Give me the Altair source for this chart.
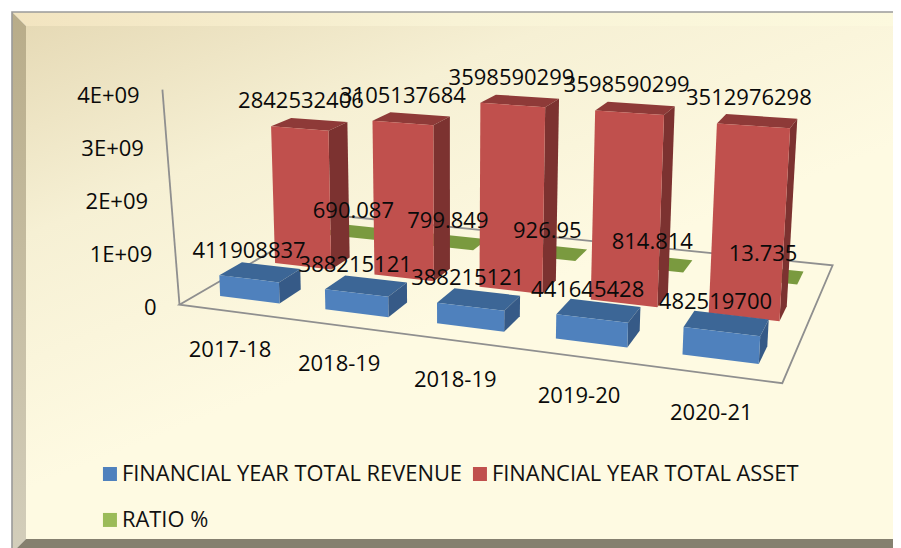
import altair as alt
import numpy as np

# ---- chart values ----
CATEGORIES = ["2017-18", "2018-19", "2018-19", "2019-20", "2020-21"]
REVENUE = [411908837, 388215121, 388215121, 441645428, 482519700]
ASSET = [2842532406, 3105137684, 3598590299, 3598590299, 3512976298]
RATIO = [690.087, 799.849, 926.95, 814.814, 13.735]
RATIO_LABELS = ["690.087", "799.849", "926.95", "814.814", "13.735"]
TICK_VALUES = [0, 1e9, 2e9, 3e9, 4e9]
TICK_LABELS = ["0", "1E+09", "2E+09", "3E+09", "4E+09"]
SERIES = ["FINANCIAL YEAR TOTAL REVENUE", "FINANCIAL YEAR TOTAL ASSET", "RATIO %"]

# ---- style and 3D view ----
FONT = "Open Sans"
FS = 22
FRONT = ["#4f81bd", "#c0504d", "#9bbb59"]
TOP = ["#3c6696", "#8e3a38", "#7a9a3f"]
SIDE = ["#365a87", "#7c3230", "#6d8a38"]
CAMERA = np.array([
    [97.5841, 76.5264, -3.85702, 174.503],
    [4.40332, -13.8582, -53.7058, 305.297],
    [-0.0295831, 0.0746668, -0.00855449, 1.0],
])
BAR_U = (0.238, 0.81)
BAR_V = (0.347, 0.74)
FLOOR_U = (0.03, 5.03)
FLOOR_V = (0.03, 3.02)


def proj(u, v, z=0.0):
    h = CAMERA @ np.array([u, v, z, 1.0])
    return [float(h[0] / h[2]), float(h[1] / h[2])]


def poly(points, **props):
    ring = points + [points[0]]
    return {"type": "Feature", "properties": props,
            "geometry": {"type": "Polygon", "coordinates": [ring]}}


def line(points, **props):
    return {"type": "Feature", "properties": props,
            "geometry": {"type": "LineString", "coordinates": points}}


def bar_faces(i, s, value):
    z = value / 1e9
    u0, u1 = i + BAR_U[0], i + BAR_U[1]
    v0, v1 = s + BAR_V[0], s + BAR_V[1]
    name = SERIES[s]
    front = poly([proj(u0, v0, 0), proj(u1, v0, 0), proj(u1, v0, z), proj(u0, v0, z)], series=name)
    top = poly([proj(u0, v0, z), proj(u1, v0, z), proj(u1, v1, z), proj(u0, v1, z)], shade=TOP[s])
    side = poly([proj(u1, v0, 0), proj(u1, v1, 0), proj(u1, v1, z), proj(u1, v0, z)], shade=SIDE[s])
    return front, top, side


fronts = {0: [], 1: [], 2: []}
shades = {0: [], 1: [], 2: []}
for s, vals in enumerate([REVENUE, ASSET, RATIO]):
    for i, val in enumerate(vals):
        f, t, d = bar_faces(i, s, val)
        fronts[s].append(f)
        shades[s] += [t, d]

VIEW = dict(type="identity", scale=1, translate=[-8, -8])


def geo(features, **mark):
    return alt.Chart(alt.Data(values=features)).mark_geoshape(**mark).project(**VIEW)


def shade_layer(s):
    return geo(shades[s], strokeWidth=0).encode(fill=alt.Fill("properties.shade:N", scale=None))


color = alt.Color(
    "properties.series:N",
    scale=alt.Scale(domain=[SERIES[0], SERIES[2], SERIES[1]], range=[FRONT[0], FRONT[2], FRONT[1]]),
    legend=alt.Legend(
        title=None, orient="none", legendX=91, legendY=455, columns=2,
        symbolType="square", symbolSize=196, symbolStrokeWidth=0, symbolOpacity=1,
        labelFont=FONT, labelFontSize=21.9, labelColor="#111111", labelLimit=500,
        labelOffset=1, rowPadding=23, columnPadding=6,
    ),
)


def front_layer(s):
    return geo(fronts[s], strokeWidth=0).encode(color=color)


# ---- panel ----
panel = geo([poly([[26, 26], [901, 26], [901, 539], [26, 539]])], strokeWidth=0,
            fill=alt.Gradient(gradient="linear", x1=0, y1=0, x2=0.42, y2=0.62,
                              stops=[alt.GradientStop(offset=0, color="#e6dab6"),
                                     alt.GradientStop(offset=0.45, color="#f6f0d4"),
                                     alt.GradientStop(offset=1, color="#fefae2")]))
bevel_top = geo([poly([[12, 12], [901, 12], [901, 26], [26, 26]])], strokeWidth=0,
                fill=alt.Gradient(gradient="linear", x1=0, y1=0, x2=1, y2=0,
                                  stops=[alt.GradientStop(offset=0, color="#f2e4c0"),
                                         alt.GradientStop(offset=0.5, color="#f8f3d6"),
                                         alt.GradientStop(offset=1, color="#fcf9de")]))
bevel_left = geo([poly([[12, 12], [26, 26], [26, 539], [12, 553]])], strokeWidth=0,
                 fill=alt.Gradient(gradient="linear", x1=0, y1=0, x2=0, y2=1,
                                   stops=[alt.GradientStop(offset=0, color="#b8ac89"),
                                          alt.GradientStop(offset=1, color="#d3cebb")]))
bevel_bottom = geo([poly([[12, 553], [26, 539], [901, 539], [901, 553]])], strokeWidth=0, fill="#85806f")
edge = geo([line([[12, 553], [12, 12], [901, 12]])], filled=False, stroke="#9a9a9a", strokeWidth=1.6)

# ---- floor and value axis ----
fu0, fu1 = FLOOR_U
fv0, fv1 = FLOOR_V
AXIS_BASE = proj(fu0, fv0)
AXIS_TOP = proj(-0.02, 0, 4.07)
floor = geo([line([proj(fu0, fv1), proj(fu0, fv0), proj(fu1, fv0), proj(fu1, fv1), proj(fu0, fv1)]),
             line([AXIS_BASE, AXIS_TOP])],
            filled=False, stroke="#8f8f8f", strokeWidth=1.8)


def axis_point(value):
    t = value / 4.07e9
    return [AXIS_BASE[0] + t * (AXIS_TOP[0] - AXIS_BASE[0]), AXIS_BASE[1] + t * (AXIS_TOP[1] - AXIS_BASE[1])]


# ---- texts ----
def text_layer(rows, align="center"):
    return (alt.Chart(alt.Data(values=rows))
            .mark_text(font=FONT, fontSize=FS, color="#0a0a0a", align=align, baseline="middle")
            .encode(longitude="lon:Q", latitude="lat:Q", text="label:N")
            .project(**VIEW))


def at(p, dx, dy, label):
    return {"lon": p[0] + dx, "lat": p[1] + dy, "label": label}


BU = sum(BAR_U) / 2
BV = sum(BAR_V) / 2
rev_rows = [at(proj(i + BU, 0 + BV, v / 1e9), -11, -21, str(v)) for i, v in enumerate(REVENUE)]
ast_rows = [at(proj(i + BU, 1 + BV, v / 1e9), -8.5, -23, str(v)) for i, v in enumerate(ASSET)]
rat_rows = [at(proj(i + BU, 2 + BV, v / 1e9), -4.5, -21, l) for i, (v, l) in enumerate(zip(RATIO, RATIO_LABELS))]
cat_rows = [at(proj(i + 0.5, 0), 3.4, 38, c) for i, c in enumerate(CATEGORIES)]
tick_rows = [at(axis_point(v), -23, 3, l) for v, l in zip(TICK_VALUES, TICK_LABELS)]

chart = alt.layer(
    panel, bevel_top, bevel_left, bevel_bottom, edge,
    floor,
    front_layer(2), shade_layer(2),
    shade_layer(1), front_layer(1),
    shade_layer(0), front_layer(0),
    text_layer(tick_rows, "right"),
    text_layer(cat_rows),
    text_layer(rat_rows),
    text_layer(ast_rows),
    text_layer(rev_rows),
).properties(
    width=885, height=540, padding=0,
    autosize=alt.AutoSizeParams(type="none"),
).configure_view(stroke=None)

chart.save("out.html", embed_options={"renderer": "svg", "actions": False})
